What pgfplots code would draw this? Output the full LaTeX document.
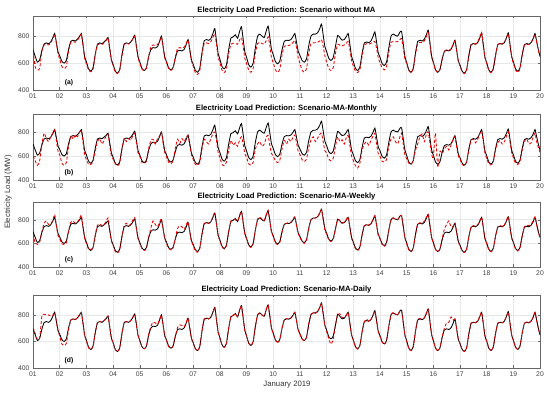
\documentclass[border=0pt]{standalone}
\usepackage{fontspec}
\setmainfont{Liberation Sans}
\usepackage{pgfplots}
\usepackage{pgfplotstable}
\pgfplotsset{compat=1.18}

\pgfplotstableread{
t act a b c d
0 700 690 600 680 705
2 650 570 560 600 660
4 607 550 522 592 615
6 624 560 560 610 625
8 693 690 700 700 790
10 742 735 790 770 805
12 750 738 745 790 800
14 744 735 720 760 800
16 758 750 760 765 790
18 792 785 790 800 800
19.5 820 812 815 845 818
21 754 750 730 750 752
22.5 684 670 640 665 680
24 655 630 610 640 640
26 613 575 540 595 580
28 600 560 522 590 570
30 620 575 545 605 585
32 702 690 680 705 690
34 762 755 770 780 762
36 770 760 740 790 772
38 764 755 775 770 766
40 778 770 760 780 778
42 800 795 800 810 805
43.5 820 815 810 840 818
45 736 730 715 740 735
46.5 646 635 610 640 640
48 610 595 570 600 605
50 557 550 530 550 552
52 540 535 530 548 538
54 565 555 555 560 562
56 666 660 640 670 665
58 742 735 720 755 745
60 750 745 745 765 752
62 744 738 700 750 746
64 758 752 730 760 758
66 774 770 770 790 776
67.5 790 785 780 815 792
69 710 705 690 715 712
70.5 626 620 600 620 625
72 591 585 575 585 590
74 541 535 535 530 540
76 525 522 520 518 523
78 552 548 540 545 550
80 660 655 660 655 658
82 742 740 745 750 742
84 750 748 720 770 748
86 744 742 745 750 745
88 758 755 730 765 760
90 784 780 775 800 785
91.5 807 800 790 820 805
93 728 722 710 725 728
94.5 645 640 625 640 645
96 610 600 600 600 605
98 561 555 545 555 560
100 545 545 540 540 545
102 565 560 555 555 563
104 647 650 660 650 650
106 700 720 730 730 715
108 715 735 740 790 745
110 712 730 700 760 740
112 722 738 745 740 730
114 765 765 770 780 768
115.5 800 795 800 810 798
117 725 720 710 720 722
118.5 645 640 630 640 642
120 612 605 595 600 610
122 565 560 548 555 562
124 550 545 535 545 548
126 567 565 560 560 565
128 637 645 665 645 640
130 690 710 740 725 705
132 695 715 705 750 725
134 690 710 745 740 720
136 702 718 720 720 710
138 743 750 760 760 748
139.5 775 772 770 785 775
141 702 698 690 700 700
142.5 624 618 610 615 622
144 593 580 575 585 590
146 547 530 530 535 545
148 532 515 525 525 530
150 561 545 545 555 560
152 678 665 660 675 680
154 767 745 740 770 770
156 775 750 720 780 778
158 769 745 700 770 770
160 783 760 745 785 785
162 824 795 790 830 825
163.5 857 820 800 860 855
165 767 740 730 765 765
166.5 671 645 630 665 668
168 632 605 590 625 628
170 575 548 530 570 572
172 557 530 520 552 555
174 586 555 550 580 585
176 700 670 650 700 700
178 787 740 730 790 785
180 795 748 690 800 798
182 810 745 710 800 805
184 785 740 680 790 788
186 840 775 740 840 840
187.5 870 790 760 870 865
189 780 725 700 775 778
190.5 684 635 620 680 682
192 645 600 590 640 643
194 588 548 535 585 586
196 570 532 525 565 568
198 599 560 548 595 598
200 714 675 660 715 712
202 800 745 700 805 798
204 815 755 720 820 812
206 800 745 680 805 798
208 790 740 700 795 792
210 845 770 760 850 845
211.5 875 795 770 880 872
213 791 730 690 790 790
214.5 701 640 620 695 700
216 665 605 600 660 662
218 612 550 560 605 610
220 595 532 545 590 590
222 616 555 565 610 612
224 700 660 660 695 700
226 762 725 730 760 765
228 770 732 700 770 772
230 768 730 740 775 770
232 775 738 720 780 778
234 800 755 760 805 800
235.5 820 770 775 825 818
237 756 715 710 750 755
238.5 688 640 640 680 686
240 660 600 615 655 658
242 620 548 570 615 618
244 607 532 555 600 605
246 631 558 575 625 630
248 729 672 670 725 730
250 800 745 735 800 805
252 815 750 760 815 815
254 815 752 720 815 812
256 825 755 750 825 826
258 858 765 780 860 858
259.5 890 775 790 885 885
261 809 725 720 800 808
262.5 723 655 645 715 722
264 688 610 625 680 680
266 636 560 575 630 620
268 620 545 560 615 580
270 640 565 580 635 615
272 722 670 680 720 720
274 805 740 760 800 800
276 790 732 720 790 808
278 770 728 735 775 780
280 775 735 700 780 780
282 800 750 760 805 800
283.5 820 760 770 825 815
285 738 700 690 735 735
286.5 650 620 600 645 648
288 614 580 565 605 612
290 562 540 520 555 560
292 545 530 500 540 543
294 570 550 540 565 568
296 672 650 650 670 670
298 750 735 700 750 748
300 757 745 720 760 770
302 752 740 690 755 752
304 765 748 730 770 768
306 802 755 770 805 800
307.5 832 760 790 835 828
309 757 710 700 755 755
310.5 677 640 620 670 676
312 645 605 600 640 642
314 597 565 555 590 595
316 582 550 550 575 580
318 608 575 570 600 606
320 713 680 680 710 712
322 800 755 740 800 800
324 815 760 760 815 818
326 805 758 720 805 805
328 800 760 700 800 800
330 830 775 760 830 828
331.5 835 782 790 835 832
333 745 715 700 740 742
334.5 648 630 610 645 646
336 607 600 580 600 605
338 550 545 540 545 548
340 532 530 530 528 530
342 561 555 565 558 560
344 675 665 650 672 676
346 762 745 700 765 765
348 770 755 760 775 772
350 764 752 785 768 766
352 778 765 720 790 780
354 815 800 790 825 815
355.5 845 830 800 845 842
357 751 742 710 748 750
358.5 651 645 620 650 650
360 610 605 580 605 608
362 551 550 790 548 550
364 532 530 505 530 530
366 552 552 640 550 552
368 630 628 620 640 635
370 687 688 660 720 700
372 695 700 680 760 740
374 690 695 650 790 745
376 703 705 690 740 785
378 740 738 740 745 760
379.5 770 765 760 772 768
381 697 695 680 695 696
382.5 618 615 600 615 618
384 586 580 575 580 585
386 540 535 530 535 540
388 525 522 520 522 525
390 551 548 550 548 551
392 657 652 650 655 657
394 737 735 730 738 738
396 745 745 740 750 745
398 740 742 710 745 742
400 753 758 740 758 755
402 790 798 790 795 792
403.5 820 830 810 822 818
405 734 740 720 732 734
406.5 641 640 625 640 641
408 604 600 580 600 603
410 549 545 535 545 549
412 532 528 525 528 532
414 558 555 550 555 558
416 660 655 650 658 660
418 737 735 710 738 738
420 745 748 730 750 746
422 740 745 700 745 742
424 753 755 720 755 755
426 793 790 770 795 792
427.5 825 818 800 828 822
429 740 735 720 738 740
430.5 648 645 630 645 648
432 611 600 585 608 610
434 557 550 540 552 556
436 540 530 530 535 540
438 565 558 555 562 565
440 663 660 650 662 663
442 737 735 720 740 738
444 745 740 745 755 746
446 740 738 700 750 742
448 753 752 710 760 754
450 785 782 760 795 786
451.5 820 812 790 825 818
453 760 755 720 758 760
454.5 700 695 670 695 700
456 650 648 630 648 650
}\loaddata

\pgfplotsset{
  every axis title shift=0pt,
  panel/.style={
    width=507bp, scale only axis,
    xmin=0, xmax=456, ymin=400, ymax=950,
    xtick={0,24,48,72,96,120,144,168,192,216,240,264,288,312,336,360,384,408,432,456},
    xticklabels={01,02,03,04,05,06,07,08,09,10,11,12,13,14,15,16,17,18,19,20},
    ytick={400,600,800},
    tick align=inside,
    major tick length=2.5bp,
    grid=major,
    major grid style={black!9, line width=0.75bp},
    axis line style={black!60, line width=0.5bp},
    every tick/.style={black!60, line width=0.4bp},
    tick label style={font=\fontsize{6.8}{7.5}\selectfont, text=black!75},
    /pgf/number format/assume math mode=true,
    title style={at={(0.5,1)}, anchor=south, inner sep=0pt, yshift=2bp,
      font=\bfseries\fontsize{7.7}{8.5}\selectfont},
    anchor=north west,
    clip=true,
  },
  actual/.style={black, line width=0.85bp, smooth, tension=0.35},
  pred/.style={red!92!black, line width=0.85bp, dash pattern=on 3bp off 2bp, smooth, tension=0.35},
}

\begin{document}
\begin{tikzpicture}
\useasboundingbox (0,0) rectangle (550bp,394bp);

\begin{axis}[panel, height=74bp, at={(33bp,378bp)},
  title={Electricity Load Prediction: Scenario without MA}]
\addplot[actual] table[x=t,y=act]{\loaddata};
\addplot[pred] table[x=t,y=a]{\loaddata};
\node[font=\bfseries\fontsize{6.8}{7.5}\selectfont] at (rel axis cs:0.071,0.1) {(a)};
\end{axis}

\begin{axis}[panel, height=66bp, at={(33bp,280bp)},
  title={Electricity Load Prediction: Scenario-MA-Monthly}]
\addplot[actual] table[x=t,y=act]{\loaddata};
\addplot[pred] table[x=t,y=b]{\loaddata};
\node[font=\bfseries\fontsize{6.8}{7.5}\selectfont] at (rel axis cs:0.071,0.11) {(b)};
\end{axis}

\begin{axis}[panel, height=65bp, at={(33bp,192bp)},
  title={Electricity Load Prediction: Scenario-MA-Weekly}]
\addplot[actual] table[x=t,y=act]{\loaddata};
\addplot[pred] table[x=t,y=c]{\loaddata};
\node[font=\bfseries\fontsize{6.8}{7.5}\selectfont] at (rel axis cs:0.071,0.11) {(c)};
\end{axis}

\begin{axis}[panel, height=73bp, at={(33bp,99bp)},
  title={Electricity Load Prediction: Scenario-MA-Daily}]
\addplot[actual] table[x=t,y=act]{\loaddata};
\addplot[pred] table[x=t,y=d]{\loaddata};
\node[font=\bfseries\fontsize{6.8}{7.5}\selectfont] at (rel axis cs:0.071,0.1) {(d)};
\end{axis}

\node[rotate=90, font=\fontsize{7.8}{9}\selectfont, text=black!80] at (8bp,202bp) {Electricity Load (MW)};
\node[font=\fontsize{7.8}{9}\selectfont, text=black!80] at (287bp,9bp) {January 2019};
\end{tikzpicture}
\end{document}
